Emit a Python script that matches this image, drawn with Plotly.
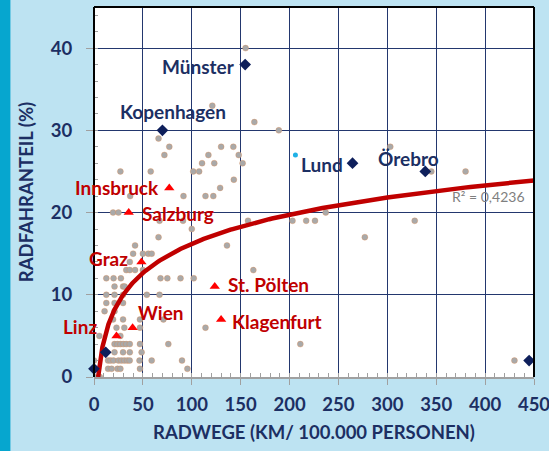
import numpy as np
import plotly.graph_objects as go

# ---------------- data ----------------
# other cities (grey dots): Radwege km / 100.000 Personen, Radfahranteil %
other_x = [155, 121, 164, 189, 66, 77, 130, 142.5, 303, 72, 117, 148, 110.5, 123, 152,
           27, 58, 101.5, 107.5, 345, 380, 143, 129, 37, 91.5, 114, 122,
           19.5, 25, 237, 67, 91, 157.5, 203, 217, 226, 328, 100, 66, 277, 42, 136,
           40, 50, 55.5, 59, 36.6, 33, 36.6, 42, 50, 163,
           12.6, 20, 27.5, 68, 75, 88.5, 102, 21, 29.7, 31.4,
           12.6, 21, 29.7, 54, 67, 12.6, 21, 29.7, 10.8, 21,
           19.5, 29.7, 47, 71, 23, 31, 47, 114, 5.5, 27,
           21, 24, 27, 30, 33, 36.6, 47, 76, 211,
           21, 29.7, 36.6, 48.7,
           0, 14.4, 17, 20, 25, 28, 31, 34, 36.5, 46.5, 59, 90, 430,
           4, 14.4, 18, 24, 27, 47, 95.5, 0, 6]
other_y = [40, 33, 31, 30, 29, 28, 28, 28, 28, 27, 27, 27, 26, 26, 26,
           25, 25, 25, 25, 25, 25, 24, 23, 22, 22, 22, 22,
           20, 20, 20, 19, 19, 19, 19, 19, 19, 19, 18, 17, 17, 16, 16,
           15, 15, 15, 15, 14, 13, 13, 13, 13, 13,
           12, 12, 12, 12, 12, 12, 12, 11, 11, 11,
           10, 10, 10, 10, 10, 9, 9, 9, 8, 8,
           7, 7, 7, 7, 6, 6, 6, 6, 5, 5,
           4, 4, 4, 4, 4, 4, 4, 4, 4,
           3, 3, 3, 3,
           2, 2, 2, 2, 2, 2, 2, 2, 2, 2, 2, 2, 2,
           1, 1, 1, 1, 1, 1, 1, 0, 0]

# highlighted european cities (navy diamonds)
eu_names = ["Münster", "Kopenhagen", "Lund", "Örebro", "", "", ""]
eu_x = [154.6, 70, 264.4, 338.8, 445, 12, 0]
eu_y = [38, 30, 26, 25, 2, 3, 1]

# single light-blue point
cyan_x = [206]
cyan_y = [27]

# austrian cities (red triangles)
at_names = ["Innsbruck", "Salzburg", "Graz", "St. Pölten", "Klagenfurt", "Wien", "Linz"]
at_x = [77, 35.5, 48.5, 123.5, 130, 39.5, 23]
at_y = [23, 20, 14, 11, 7, 6, 5]

# logarithmic trend line  y = a*ln(x) + b
trend_a = 5.125
trend_b = -7.40
r2_text = "R² = 0,4236"

x_ticks = [0, 50, 100, 150, 200, 250, 300, 350, 400, 450]
y_ticks = [0, 10, 20, 30, 40]

# ---------------- styles ----------------
NAVY = "#1c2f63"
DARKRED = "#c00000"
FONT = "Lato"
LBL = 19

eu_label_pos = {
    "Münster": dict(xanchor="right", xshift=-8, yshift=-2),
    "Kopenhagen": dict(xanchor="center", xshift=11, yshift=19),
    "Lund": dict(xanchor="right", xshift=-8, yshift=-1),
    "Örebro": dict(xanchor="center", xshift=-17, yshift=13),
}
at_label_pos = {
    "Innsbruck": dict(xanchor="right", xshift=-8, yshift=0),
    "Salzburg": dict(xanchor="left", xshift=11, yshift=-1),
    "Graz": dict(xanchor="right", xshift=-11, yshift=3),
    "St. Pölten": dict(xanchor="left", xshift=11, yshift=2),
    "Klagenfurt": dict(xanchor="left", xshift=9, yshift=-2),
    "Wien": dict(xanchor="center", xshift=28, yshift=15),
    "Linz": dict(xanchor="right", xshift=-17, yshift=9),
}

fig = go.Figure()

fig.add_trace(go.Scatter(
    x=other_x, y=other_y, mode="markers",
    marker=dict(size=6, color="#a9a9a9",
                line=dict(color="rgba(237,125,49,0.4)", width=0.7)),
    hoverinfo="skip", showlegend=False))

tx = np.geomspace(np.exp(-trend_b / trend_a), 450, 300)
fig.add_trace(go.Scatter(
    x=tx, y=trend_a * np.log(tx) + trend_b, mode="lines",
    line=dict(color=DARKRED, width=4.5), hoverinfo="skip", showlegend=False))

fig.add_trace(go.Scatter(
    x=cyan_x, y=cyan_y, mode="markers",
    marker=dict(size=5, color="#1fb1e6"), showlegend=False))

fig.add_trace(go.Scatter(
    x=eu_x, y=eu_y, mode="markers",
    marker=dict(symbol="diamond", size=9, color="#0e1f5b"),
    showlegend=False, cliponaxis=False))

fig.add_trace(go.Scatter(
    x=at_x, y=at_y, mode="markers",
    marker=dict(symbol="triangle-up", size=9, color="#ff0000"),
    showlegend=False))

for n, x, y in zip(eu_names, eu_x, eu_y):
    if not n:
        continue
    p = eu_label_pos[n]
    fig.add_annotation(x=x, y=y, text=n, showarrow=False, yanchor="middle",
                       font=dict(family=FONT, size=LBL, color=NAVY, weight="bold"), **p)

for n, x, y in zip(at_names, at_x, at_y):
    p = at_label_pos[n]
    fig.add_annotation(x=x, y=y, text=n, showarrow=False, yanchor="middle",
                       font=dict(family=FONT, size=LBL, color=DARKRED, weight="bold"), **p)

fig.add_annotation(x=443, y=22, text=r2_text, showarrow=False, xanchor="right",
                   yanchor="middle", font=dict(family=FONT, size=14, color="#7f7f7f"))

# plot area border (left, top, right) and left stripe
for (x0, y0, x1, y1) in [(0, 0, 0, 1), (0, 1, 1, 1), (1, 0, 1, 1)]:
    fig.add_shape(type="line", xref="paper", yref="paper", x0=x0, y0=y0, x1=x1, y1=y1,
                  line=dict(color="#000000", width=2), layer="above")
fig.add_shape(type="rect", xref="paper", yref="paper", x0=-0.214, x1=-0.19,
              y0=-0.22, y1=1.03, fillcolor="#06a6cf", line=dict(width=0), layer="below")

fig.update_layout(
    width=549, height=451,
    margin=dict(l=94, r=15, t=7, b=74),
    paper_bgcolor="#bde3f2",
    plot_bgcolor="#ffffff",
    font=dict(family=FONT, color=NAVY),
    xaxis=dict(
        range=[0, 450], tickvals=x_ticks, showgrid=True, gridcolor="#23376e", gridwidth=1,
        zeroline=False, showline=True, linecolor="#a0a0a0", linewidth=1.5,
        ticks="outside", ticklen=6, tickcolor="#a0a0a0", automargin=False,
        ticklabeloverflow="allow",
        minor=dict(dtick=10, ticks="inside", ticklen=4, tickcolor="#a0a0a0", showgrid=False),
        tickfont=dict(family=FONT, size=18.5, color=NAVY, weight="bold"),
        ticklabelstandoff=4,
        title=dict(text="RADWEGE (KM/ 100.000 PERSONEN)", standoff=12,
                   font=dict(family=FONT, size=18.5, color=NAVY, weight="bold")),
    ),
    yaxis=dict(
        range=[0, 45], tickvals=y_ticks, showgrid=True, gridcolor="#23376e", gridwidth=1,
        zeroline=False, showline=False, automargin=False,
        ticks="outside", ticklen=7, tickcolor="#a0a0a0",
        minor=dict(dtick=2, ticks="inside", ticklen=4, tickcolor="#a0a0a0", showgrid=False),
        tickfont=dict(family=FONT, size=18.5, color=NAVY, weight="bold"),
        ticklabelstandoff=10,
        title=dict(text="RADFAHRANTEIL (%)", standoff=12,
                   font=dict(family=FONT, size=18.5, color=NAVY, weight="bold")),
    ),
)

fig.write_html("out.html", config={"displayModeBar": False},
               post_script="document.body.style.margin='0';")
